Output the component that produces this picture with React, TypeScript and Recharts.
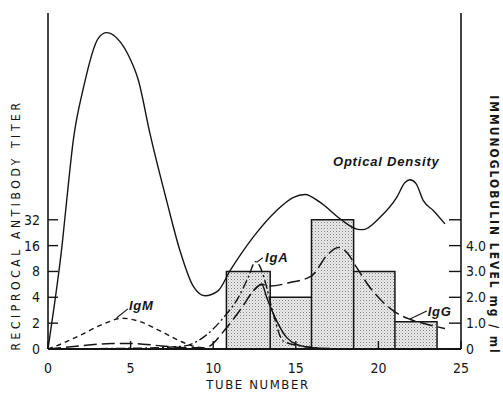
import React from 'react';
import { ComposedChart, Line, Area, XAxis, YAxis, ReferenceDot, ReferenceLine } from 'recharts';

const tubeTicks = [0, 5, 10, 15, 20, 25];
const titerTicks = [0, 1, 2, 3, 4, 5];
const titerLabels = ['0', '2', '4', '8', '16', '32'];
const levelTicks = [0, 1, 2, 3, 4, 5];
const levelLabels = ['0', '1.0', '2.0', '3.0', '4.0', ''];

// optical density trace, drawn on the titer scale (it has no axis of its own)
const odTube = [0, 0.42, 0.85, 1.13, 1.53, 2.14, 3.04, 3.55, 4.36, 4.96, 5.47, 6.17, 7.18, 7.99, 8.78, 9.5, 10.29, 11.02, 12.41, 13.84, 14.83, 15.56, 16.46, 17.68, 18.69, 19.07, 20.1, 21.11, 21.61, 21.91, 22.28, 22.72, 23.32, 24.03];
const odValue = [0, 1.86, 4.0, 5.74, 8.07, 10.09, 12.02, 12.24, 11.89, 11.24, 10.4, 8.34, 5.74, 3.8, 2.44, 2.06, 2.25, 3.03, 4.32, 5.36, 5.86, 5.98, 5.68, 5.04, 4.64, 4.62, 5.1, 5.87, 6.44, 6.55, 6.4, 5.74, 5.36, 4.84];

// antibody titers (index on the log2 titer axis: 1 = 2, 2 = 4, 3 = 8 ...)
const igmTube = [0, 1.0, 2.0, 3.55, 4.46, 5.57, 6.78, 7.99, 8.72, 9.5];
const igmTiter = [0, 0.25, 0.55, 1.02, 1.19, 1.06, 0.7, 0.31, 0.12, 0.04];

const igaTube = [0, 3.75, 6.17, 8.29, 9.5, 10.71, 11.52, 12.12, 12.56, 12.94, 13.24, 13.64, 14.24, 15.25, 16.46];
const igaTiter = [0, 0.02, 0.04, 0.12, 0.5, 1.28, 1.99, 2.77, 3.38, 3.03, 2.38, 1.35, 0.31, 0.12, 0.04];

const iggTube = [0, 1.94, 3.86, 5.07, 6.88, 8.47, 9.5, 10.82, 11.73, 12.43, 12.94, 13.44, 14.65, 15.96, 16.87, 17.57, 18.18, 18.69, 19.49, 20.3, 21.11, 21.91, 22.92, 24.03];
const iggTiter = [0, 0.12, 0.21, 0.21, 0.12, 0.05, 0.05, 0.83, 1.6, 2.25, 2.51, 2.44, 2.57, 2.83, 3.61, 3.93, 3.67, 3.15, 2.38, 1.8, 1.39, 1.15, 0.96, 0.79];

// solid branch falling off the first IgG shoulder
const dropTube = [12.43, 12.94, 13.24, 13.84, 14.45, 15.05, 16.04, 17.07];
const dropTiter = [2.25, 2.51, 1.99, 1.09, 0.44, 0.18, 0.05, 0.02];

// pooled fractions, immunoglobulin level mg/ml
const binEdges = [10.8, 13.45, 15.95, 18.5, 21.0, 23.55];
const binLevel = [3.0, 2.0, 5.0, 3.0, 1.05];

const zip = (xs: number[], ys: number[]) => xs.map((tube, i) => ({ tube, v: ys[i] }));

const barOutline = binLevel.flatMap((level, i) => [
  { tube: binEdges[i], level: 0 },
  { tube: binEdges[i], level },
  { tube: binEdges[i + 1], level },
  { tube: binEdges[i + 1], level: 0 },
]);

const INK = '#151515';
const NARROW = '"Liberation Sans Narrow", "DejaVu Sans Condensed", "Liberation Sans", sans-serif';
const ITALIC = '"Liberation Sans", Arial, sans-serif';

const XTick = ({ x, y, payload }: any) => (
  <g>
    <line x1={x} y1={y - 14} x2={x} y2={y - 22} stroke={INK} strokeWidth={1.4} />
    <text x={x} y={y} dy="0.71em" textAnchor="middle" fontSize={14} fontFamily={NARROW} fill={INK}>
      {payload.value}
    </text>
  </g>
);

const LeftTick = ({ x, y, payload }: any) => (
  <g>
    <line x1={x + 8} y1={y} x2={x + 18} y2={y} stroke={INK} strokeWidth={1.4} />
    <text x={x} y={y} dy="0.35em" textAnchor="end" fontSize={14} fontFamily={NARROW} fill={INK}>
      {titerLabels[payload.value]}
    </text>
  </g>
);

const RightTick = ({ x, y, payload }: any) => (
  <g>
    <line x1={x - 5} y1={y} x2={x - 17} y2={y} stroke={INK} strokeWidth={1.4} />
    <text x={x} y={y} dy="0.35em" textAnchor="start" fontSize={14} fontFamily={NARROW} fill={INK}>
      {levelLabels[payload.value]}
    </text>
  </g>
);

const note = (text: string) => (p: any) => (
  <text x={p.cx} y={p.cy} dy="0.35em" fontSize={13} fontStyle="italic" fontWeight="bold"
    fontFamily={ITALIC} letterSpacing={0.8} fill={INK}>
    {text}
  </text>
);

const title: React.CSSProperties = {
  position: 'absolute', whiteSpace: 'nowrap', fontFamily: NARROW, fontSize: 12,
  color: INK, lineHeight: 1, transformOrigin: 'center',
};

export default function App() {
  return (
    <div style={{ position: 'absolute', left: 0, top: 0, width: 503, height: 393, background: '#fff' }}>
      <ComposedChart width={503} height={393} margin={{ top: 13, right: 12, bottom: 4, left: 8 }}>
        <defs>
          <pattern id="stipple" width="3" height="3" patternUnits="userSpaceOnUse">
            <rect width="3" height="3" fill="#ececec" />
            <rect width="1" height="1" fill="#7c7c7c" />
            <rect x="1.5" y="1.5" width="1" height="1" fill="#a8a8a8" />
          </pattern>
        </defs>
        <XAxis
          type="number" dataKey="tube" domain={[0, 25]} ticks={tubeTicks} interval={0}
          height={40} tickSize={0} tickMargin={14} tick={(p: any) => <XTick {...p} />}
          axisLine={{ stroke: INK, strokeWidth: 2 }}
        />
        <XAxis
          xAxisId="top" orientation="top" type="number" dataKey="tube" domain={[0, 25]}
          height={0} tick={false} tickLine={false} axisLine={{ stroke: INK, strokeWidth: 1.2 }}
        />
        <YAxis
          yAxisId="left" type="number" domain={[0, 13]} ticks={titerTicks} interval={0}
          width={40} tickSize={0} tickMargin={8} tick={(p: any) => <LeftTick {...p} />}
          axisLine={{ stroke: INK, strokeWidth: 1.6 }}
        />
        <YAxis
          yAxisId="right" orientation="right" type="number" domain={[0, 13]} ticks={levelTicks} interval={0}
          width={30} tickSize={0} tickMargin={5} tick={(p: any) => <RightTick {...p} />}
          axisLine={{ stroke: INK, strokeWidth: 1.6 }}
        />

        <Area
          yAxisId="right" data={barOutline} dataKey="level" type="linear"
          stroke={INK} strokeWidth={1.5} fill="url(#stipple)" fillOpacity={1}
          dot={false} activeDot={false} isAnimationActive={false}
        />

        <Line yAxisId="left" data={zip(odTube, odValue)} dataKey="v" type="monotone"
          stroke={INK} strokeWidth={1.4} dot={false} activeDot={false} isAnimationActive={false} />
        <Line yAxisId="left" data={zip(igmTube, igmTiter)} dataKey="v" type="monotone"
          stroke={INK} strokeWidth={1.4} strokeDasharray="5 4" dot={false} activeDot={false} isAnimationActive={false} />
        <Line yAxisId="left" data={zip(igaTube, igaTiter)} dataKey="v" type="monotone"
          stroke={INK} strokeWidth={1.4} strokeDasharray="9 3 2 3" dot={false} activeDot={false} isAnimationActive={false} />
        <Line yAxisId="left" data={zip(iggTube, iggTiter)} dataKey="v" type="monotone"
          stroke={INK} strokeWidth={1.5} strokeDasharray="13 5" dot={false} activeDot={false} isAnimationActive={false} />
        <Line yAxisId="left" data={zip(dropTube, dropTiter)} dataKey="v" type="monotone"
          stroke={INK} strokeWidth={1.5} dot={false} activeDot={false} isAnimationActive={false} />

        <ReferenceLine yAxisId="left" segment={[{ x: 4.84, y: 1.55 }, { x: 4.16, y: 1.21 }]} stroke={INK} strokeWidth={1.1} />
        <ReferenceLine yAxisId="left" segment={[{ x: 13.0, y: 3.53 }, { x: 12.63, y: 3.35 }]} stroke={INK} strokeWidth={1.1} />
        <ReferenceLine yAxisId="left" segment={[{ x: 22.93, y: 1.47 }, { x: 21.91, y: 1.16 }]} stroke={INK} strokeWidth={1.1} />

        <ReferenceDot yAxisId="left" x={17.25} y={7.26} r={0} shape={note('Optical Density')} />
        <ReferenceDot yAxisId="left" x={13.14} y={3.53} r={0} shape={note('IgA')} />
        <ReferenceDot yAxisId="left" x={4.9} y={1.67} r={0} shape={note('IgM')} />
        <ReferenceDot yAxisId="left" x={22.98} y={1.44} r={0} shape={note('IgG')} />
      </ComposedChart>

      <div style={{ ...title, left: 16, top: 225, letterSpacing: 3.6, transform: 'translate(-50%, -50%) rotate(-90deg)' }}>
        RECIPROCAL ANTIBODY TITER
      </div>
      <div style={{ ...title, left: 494, top: 225, fontWeight: 'bold', fontSize: 12, letterSpacing: 2, transform: 'translate(-50%, -50%) rotate(90deg)' }}>
        IMMUNOGLOBULIN LEVEL mg / ml
      </div>
      <div style={{ ...title, left: 258, top: 384, fontSize: 13, letterSpacing: 1.6, transform: 'translate(-50%, -50%)' }}>
        TUBE NUMBER
      </div>
    </div>
  );
}
